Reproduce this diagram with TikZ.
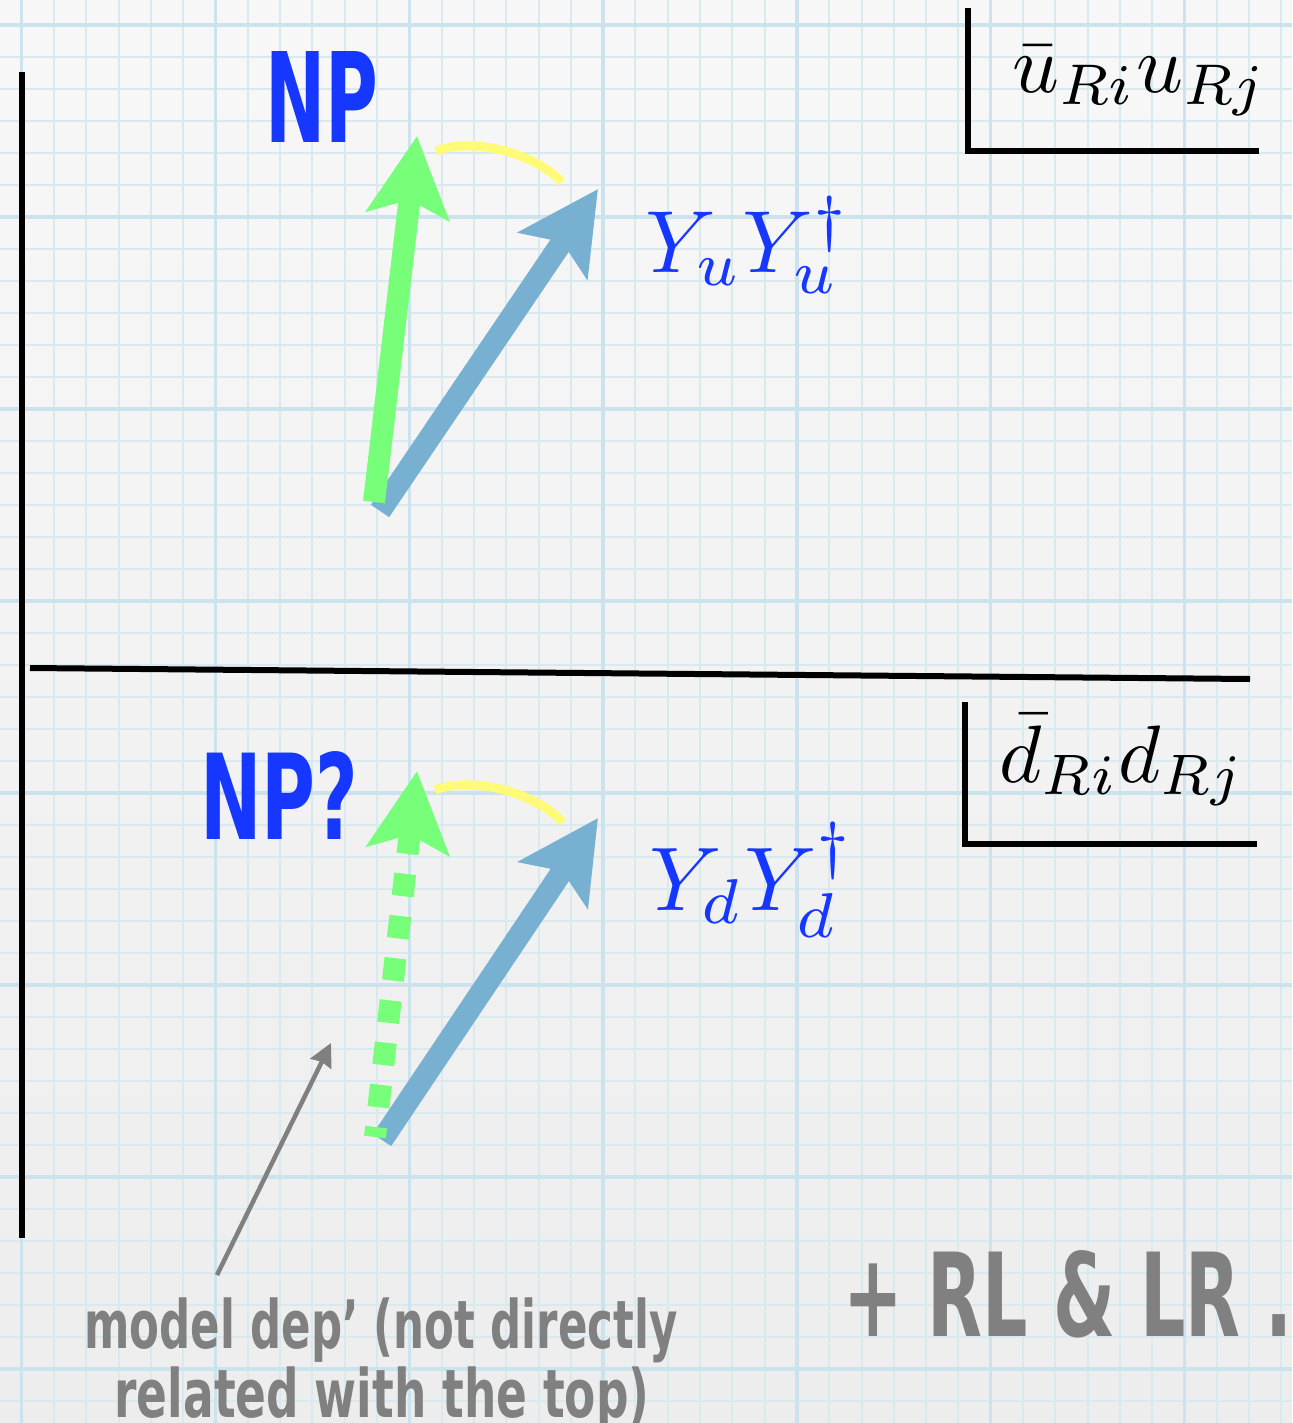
\documentclass[tikz,border=0pt]{standalone}
\usepackage{fontspec}
\usepackage{graphicx}
\usetikzlibrary{arrows.meta}
\newfontfamily\handfont{DejaVu Sans}
\definecolor{npblue}{RGB}{22,55,255}
\definecolor{vgreen}{RGB}{120,255,122}
\definecolor{vblue}{RGB}{120,176,210}
\definecolor{vyellow}{RGB}{255,250,120}
\definecolor{pgray}{RGB}{128,128,128}
\definecolor{gridminor}{RGB}{216,233,240}
\definecolor{gridmajor}{RGB}{204,226,236}
\begin{document}
\begin{tikzpicture}[x=0.02cm,y=-0.02cm,
  vecline/.style={line width=0.44cm,-{Stealth[length=1.6cm,width=1.64cm,inset=0.32cm]}},
  dashvec/.style={vecline,dash pattern=on 0.45cm off 0.4cm,dash phase=0.25cm},
  arcline/.style={vyellow,line width=0.18cm},
  rule/.style={black,line width=0.12cm},
  pointer/.style={pgray,line width=0.09cm,-{Stealth[length=0.46cm,width=0.46cm,inset=0.04cm]}},
  hand/.style={inner sep=0,font=\handfont\bfseries},
  mathlbl/.style={inner sep=0}]
\useasboundingbox (0,0) rectangle (1292,1423);
% paper
\shade[top color=black!3,bottom color=black!7] (0,0) rectangle (1292,1423);
\foreach \k in {0,...,40}{
  \pgfmathsetmacro\xx{-10.6+32.3*\k}
  \draw[gridminor,line width=0.04cm] (\xx,0) -- (\xx,1423);}
\foreach \k in {0,...,45}{
  \pgfmathsetmacro\yy{-7+32*\k}
  \draw[gridminor,line width=0.04cm] (0,\yy) -- (1292,\yy);}
\foreach \k in {1,7,...,37}{
  \pgfmathsetmacro\xx{-10.6+32.3*\k}
  \draw[gridmajor,line width=0.07cm] (\xx,0) -- (\xx,1423);}
\foreach \k in {1,7,...,43}{
  \pgfmathsetmacro\yy{-7+32*\k}
  \draw[gridmajor,line width=0.07cm] (0,\yy) -- (1292,\yy);}
% frame lines
\coordinate (L0) at (22,72);
\coordinate (L1) at (22,1238);
\coordinate (D0) at (30,668);
\coordinate (D1) at (1250,679);
\coordinate (UA) at (968,8);
\coordinate (UB) at (968,151);
\coordinate (UC) at (1259,151);
\coordinate (DA) at (965,702);
\coordinate (DB) at (965,844);
\coordinate (DC) at (1257,844);
\draw[rule] (L0) -- (L1);
\draw[rule] (D0) -- (D1);
\draw[rule] (UA) -- (UB) -- (UC);
\draw[rule] (DA) -- (DB) -- (DC);
% top panel vectors
\coordinate (bt0) at (380,511);
\coordinate (bt1) at (598,189);
\coordinate (gt0) at (374,502);
\coordinate (gt1) at (417,136);
\draw[vecline,vblue] (bt0) -- (bt1);
\draw[vecline,vgreen] (gt0) -- (gt1);
\coordinate (ya0) at (436,151);
\coordinate (ya1) at (562,182);
\draw[arcline] (ya0) .. controls (470,138) and (530,150) .. (ya1);
% bottom panel vectors
\coordinate (bb0) at (382,1140);
\coordinate (bb1) at (598,818);
\coordinate (gb0) at (375,1137);
\coordinate (gb1) at (417,771);
\draw[vecline,vblue] (bb0) -- (bb1);
\draw[dashvec,vgreen] (gb0) -- (gb1);
\coordinate (yb0) at (435,790);
\coordinate (yb1) at (563,822);
\draw[arcline] (yb0) .. controls (469,777) and (530,789) .. (yb1);
% labels
\node[hand,text=npblue,anchor=south west] (np1) at (265,143) {\resizebox{2.26cm}{1.82cm}{NP}};
\node[hand,text=npblue,anchor=south west] (np2) at (200,840) {\resizebox{3.16cm}{1.76cm}{NP?}};
\node[mathlbl,text=npblue,anchor=base west] (yu) at (645,272) {\resizebox{4.1cm}{!}{$Y_uY_u^\dagger$}};
\node[mathlbl,text=npblue,anchor=base west] (yd) at (649,910) {\resizebox{4.1cm}{!}{$Y_dY_d^\dagger$}};
\node[mathlbl,anchor=base west] (uu) at (1012,92) {\resizebox{5.1cm}{!}{$\bar u_{Ri}u_{Rj}$}};
\node[mathlbl,anchor=base west] (dd) at (999,782) {\resizebox{4.9cm}{!}{$\bar d_{Ri}d_{Rj}$}};
\node[hand,text=pgray,anchor=base west] (rl) at (843,1336) {\resizebox{8.98cm}{1.72cm}{+ RL \& LR .}};
\node[hand,text=pgray,anchor=base] (m1) at (381,1348) {\resizebox{11.86cm}{\height}{\fontsize{38pt}{40pt}\selectfont model dep’ (not directly}};
\node[hand,text=pgray,anchor=base] (m2) at (382,1417) {\resizebox{10.7cm}{\height}{\fontsize{38pt}{40pt}\selectfont related with the top)}};
% pointer
\coordinate (ptail) at (217,1275);
\coordinate (ptip) at (331,1043);
\draw[pointer] (ptail) -- (ptip);
\end{tikzpicture}
\end{document}
